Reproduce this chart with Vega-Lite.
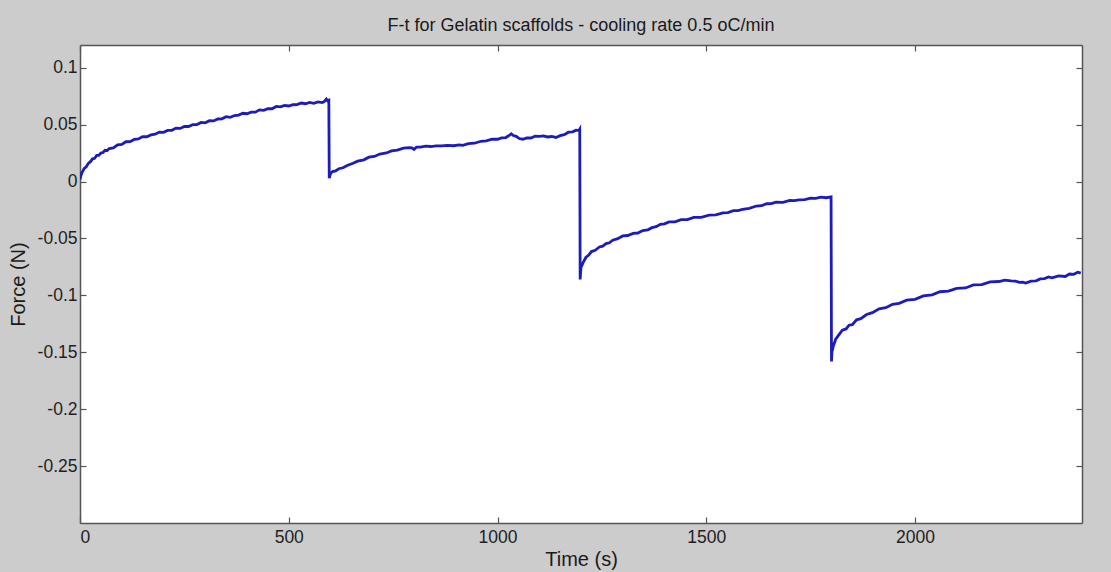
{
  "$schema": "https://vega.github.io/schema/vega-lite/v6.json",
  "width": 1002,
  "height": 478,
  "autosize": {"type": "none"},
  "padding": {"left": 80, "top": 45, "right": 29, "bottom": 49},
  "background": "#cccccc",
  "title": {
    "text": "F-t for Gelatin scaffolds - cooling rate 0.5 oC/min",
    "font": "Liberation Sans",
    "fontSize": 18,
    "fontWeight": "normal",
    "color": "#1a1a1a",
    "anchor": "middle",
    "baseline": "alphabetic",
    "offset": -5
  },
  "config": {
    "locale": {
      "number": {"decimal": ".", "thousands": ",", "grouping": [3], "currency": ["$", ""], "minus": "-"}
    },
    "view": {"fill": "white", "stroke": null},
    "axis": {
      "labelFont": "Liberation Sans",
      "labelFontSize": 17.5,
      "labelColor": "#1f1f1f",
      "titleFont": "Liberation Sans",
      "titleFontSize": 20,
      "titleFontWeight": "normal",
      "titleColor": "#1a1a1a",
      "domainColor": "#555555",
      "domainWidth": 1.5,
      "tickColor": "#555555",
      "tickWidth": 1.2,
      "tickSize": -6,
      "grid": false
    }
  },
  "data": {
    "values": [
      {"t": 0, "f": 0.002}, {"t": 2, "f": 0.005}, {"t": 5, "f": 0.008}, {"t": 10, "f": 0.0115},
      {"t": 15, "f": 0.013}, {"t": 20, "f": 0.016}, {"t": 25, "f": 0.0175}, {"t": 30, "f": 0.020},
      {"t": 35, "f": 0.0205}, {"t": 40, "f": 0.023}, {"t": 45, "f": 0.023}, {"t": 50, "f": 0.025},
      {"t": 55, "f": 0.0255}, {"t": 60, "f": 0.0275}, {"t": 65, "f": 0.0272}, {"t": 70, "f": 0.029},
      {"t": 80, "f": 0.0296}, {"t": 90, "f": 0.0323}, {"t": 100, "f": 0.0326}, {"t": 110, "f": 0.035},
      {"t": 120, "f": 0.0351}, {"t": 130, "f": 0.037}, {"t": 140, "f": 0.0374}, {"t": 150, "f": 0.0395},
      {"t": 160, "f": 0.0394}, {"t": 170, "f": 0.041}, {"t": 180, "f": 0.0416}, {"t": 190, "f": 0.0435},
      {"t": 200, "f": 0.0433}, {"t": 210, "f": 0.045}, {"t": 220, "f": 0.0451}, {"t": 230, "f": 0.047},
      {"t": 240, "f": 0.0467}, {"t": 250, "f": 0.0485}, {"t": 260, "f": 0.0484}, {"t": 270, "f": 0.050},
      {"t": 280, "f": 0.0501}, {"t": 290, "f": 0.052}, {"t": 300, "f": 0.0516}, {"t": 310, "f": 0.0535},
      {"t": 320, "f": 0.0533}, {"t": 330, "f": 0.055}, {"t": 340, "f": 0.0551}, {"t": 350, "f": 0.057},
      {"t": 360, "f": 0.0565}, {"t": 370, "f": 0.058}, {"t": 380, "f": 0.0584}, {"t": 390, "f": 0.060},
      {"t": 400, "f": 0.0596}, {"t": 410, "f": 0.061}, {"t": 420, "f": 0.061}, {"t": 430, "f": 0.063},
      {"t": 440, "f": 0.0626}, {"t": 450, "f": 0.064}, {"t": 460, "f": 0.064}, {"t": 470, "f": 0.066},
      {"t": 480, "f": 0.0656}, {"t": 490, "f": 0.067}, {"t": 500, "f": 0.0664}, {"t": 510, "f": 0.0675},
      {"t": 520, "f": 0.0676}, {"t": 530, "f": 0.069}, {"t": 540, "f": 0.0684}, {"t": 550, "f": 0.0695},
      {"t": 560, "f": 0.0688}, {"t": 570, "f": 0.070}, {"t": 580, "f": 0.0694}, {"t": 585, "f": 0.0703},
      {"t": 590, "f": 0.0725}, {"t": 593, "f": 0.071}, {"t": 596, "f": 0.0715},
      {"t": 597, "f": 0.003}, {"t": 600, "f": 0.007}, {"t": 605, "f": 0.0088}, {"t": 612, "f": 0.0094},
      {"t": 620, "f": 0.0113}, {"t": 630, "f": 0.0121}, {"t": 640, "f": 0.0142}, {"t": 654, "f": 0.0161},
      {"t": 665, "f": 0.0179}, {"t": 680, "f": 0.0191}, {"t": 692, "f": 0.0214}, {"t": 705, "f": 0.0221},
      {"t": 718, "f": 0.0242}, {"t": 734, "f": 0.0251}, {"t": 746, "f": 0.0269}, {"t": 760, "f": 0.0276},
      {"t": 775, "f": 0.0294}, {"t": 789, "f": 0.0298}, {"t": 795, "f": 0.0296}, {"t": 800, "f": 0.0283},
      {"t": 806, "f": 0.0302}, {"t": 815, "f": 0.0303}, {"t": 828, "f": 0.0312}, {"t": 840, "f": 0.0308},
      {"t": 853, "f": 0.0314}, {"t": 866, "f": 0.0314}, {"t": 880, "f": 0.0318}, {"t": 895, "f": 0.0315},
      {"t": 908, "f": 0.0323}, {"t": 917, "f": 0.0318}, {"t": 930, "f": 0.0334}, {"t": 945, "f": 0.0337},
      {"t": 960, "f": 0.0354}, {"t": 973, "f": 0.0357}, {"t": 987, "f": 0.0372}, {"t": 1000, "f": 0.0372},
      {"t": 1010, "f": 0.0384}, {"t": 1020, "f": 0.0387}, {"t": 1028, "f": 0.0405}, {"t": 1033, "f": 0.042},
      {"t": 1038, "f": 0.0405}, {"t": 1045, "f": 0.0398}, {"t": 1052, "f": 0.0378}, {"t": 1061, "f": 0.0372},
      {"t": 1070, "f": 0.0384}, {"t": 1080, "f": 0.0383}, {"t": 1090, "f": 0.0399}, {"t": 1100, "f": 0.0397},
      {"t": 1110, "f": 0.0402}, {"t": 1120, "f": 0.0392}, {"t": 1130, "f": 0.0396}, {"t": 1140, "f": 0.0388},
      {"t": 1150, "f": 0.0404}, {"t": 1160, "f": 0.0412}, {"t": 1170, "f": 0.0434}, {"t": 1180, "f": 0.0437},
      {"t": 1188, "f": 0.0452}, {"t": 1195, "f": 0.0448}, {"t": 1197, "f": 0.046},
      {"t": 1198, "f": -0.086}, {"t": 1199, "f": -0.080}, {"t": 1200, "f": -0.0755}, {"t": 1205, "f": -0.0712},
      {"t": 1212, "f": -0.0665}, {"t": 1218, "f": -0.0648}, {"t": 1225, "f": -0.0615}, {"t": 1234, "f": -0.0604},
      {"t": 1244, "f": -0.0575}, {"t": 1252, "f": -0.0568}, {"t": 1260, "f": -0.0545}, {"t": 1268, "f": -0.0538},
      {"t": 1276, "f": -0.0515}, {"t": 1288, "f": -0.0502}, {"t": 1300, "f": -0.0478}, {"t": 1312, "f": -0.0474},
      {"t": 1325, "f": -0.0455}, {"t": 1336, "f": -0.0452}, {"t": 1348, "f": -0.043}, {"t": 1360, "f": -0.0424},
      {"t": 1370, "f": -0.0405}, {"t": 1380, "f": -0.0396}, {"t": 1390, "f": -0.0375}, {"t": 1400, "f": -0.0372},
      {"t": 1411, "f": -0.0355}, {"t": 1425, "f": -0.0354}, {"t": 1440, "f": -0.0335}, {"t": 1455, "f": -0.0334},
      {"t": 1470, "f": -0.0315}, {"t": 1488, "f": -0.0314}, {"t": 1507, "f": -0.0295}, {"t": 1523, "f": -0.0293},
      {"t": 1540, "f": -0.0275}, {"t": 1552, "f": -0.0272}, {"t": 1565, "f": -0.0255}, {"t": 1576, "f": -0.0256},
      {"t": 1587, "f": -0.0245}, {"t": 1603, "f": -0.0236}, {"t": 1620, "f": -0.0215}, {"t": 1632, "f": -0.0212},
      {"t": 1645, "f": -0.0195}, {"t": 1656, "f": -0.0194}, {"t": 1667, "f": -0.018}, {"t": 1684, "f": -0.0182},
      {"t": 1700, "f": -0.0165}, {"t": 1711, "f": -0.0168}, {"t": 1722, "f": -0.016}, {"t": 1736, "f": -0.0158},
      {"t": 1750, "f": -0.0145}, {"t": 1762, "f": -0.0148}, {"t": 1775, "f": -0.0136}, {"t": 1787, "f": -0.0142},
      {"t": 1799, "f": -0.0135},
      {"t": 1800, "f": -0.158}, {"t": 1801, "f": -0.150}, {"t": 1804, "f": -0.145}, {"t": 1810, "f": -0.1385},
      {"t": 1818, "f": -0.1345}, {"t": 1826, "f": -0.1305}, {"t": 1835, "f": -0.1295}, {"t": 1842, "f": -0.1262},
      {"t": 1850, "f": -0.1258}, {"t": 1860, "f": -0.1215}, {"t": 1870, "f": -0.1205}, {"t": 1884, "f": -0.1168},
      {"t": 1898, "f": -0.1152}, {"t": 1914, "f": -0.1118}, {"t": 1930, "f": -0.1108}, {"t": 1946, "f": -0.1078},
      {"t": 1962, "f": -0.107}, {"t": 1980, "f": -0.1042}, {"t": 2000, "f": -0.1035}, {"t": 2020, "f": -0.1005},
      {"t": 2041, "f": -0.0995}, {"t": 2060, "f": -0.0968}, {"t": 2080, "f": -0.0963}, {"t": 2100, "f": -0.0938},
      {"t": 2121, "f": -0.0935}, {"t": 2140, "f": -0.0908}, {"t": 2160, "f": -0.0905}, {"t": 2180, "f": -0.0882},
      {"t": 2201, "f": -0.0878}, {"t": 2215, "f": -0.0866}, {"t": 2230, "f": -0.0872}, {"t": 2240, "f": -0.0874},
      {"t": 2250, "f": -0.0885}, {"t": 2258, "f": -0.0884}, {"t": 2265, "f": -0.0892}, {"t": 2278, "f": -0.0875},
      {"t": 2290, "f": -0.0872}, {"t": 2300, "f": -0.0855}, {"t": 2310, "f": -0.0852}, {"t": 2320, "f": -0.0838},
      {"t": 2328, "f": -0.0845}, {"t": 2344, "f": -0.0828}, {"t": 2360, "f": -0.0834}, {"t": 2370, "f": -0.0812},
      {"t": 2380, "f": -0.0815}, {"t": 2390, "f": -0.0796}, {"t": 2397, "f": -0.0805}
    ]
  },
  "layer": [
    {
      "mark": {"type": "line", "color": "#1c1cbe", "strokeWidth": 2.8, "clip": true},
      "encoding": {
        "x": {
          "field": "t", "type": "quantitative",
          "scale": {"domain": [0, 2400], "nice": false, "zero": false},
          "axis": {"orient": "bottom", "title": "Time (s)", "values": [0, 500, 1000, 1500, 2000], "format": "d", "labelPadding": 11, "titlePadding": 4}
        },
        "y": {
          "field": "f", "type": "quantitative",
          "scale": {"domain": [-0.3, 0.12], "nice": false, "zero": false},
          "axis": {"orient": "left", "title": "Force (N)", "values": [-0.25, -0.2, -0.15, -0.1, -0.05, 0, 0.05, 0.1], "format": ".2~f", "labelPadding": 9, "titlePadding": 9}
        }
      }
    },
    {
      "mark": {"type": "point", "opacity": 0},
      "encoding": {
        "x": {
          "field": "t", "type": "quantitative",
          "axis": {"orient": "top", "title": null, "labels": false, "values": [0, 500, 1000, 1500, 2000]}
        },
        "y": {
          "field": "f", "type": "quantitative",
          "axis": {"orient": "right", "title": null, "labels": false, "values": [-0.25, -0.2, -0.15, -0.1, -0.05, 0, 0.05, 0.1]}
        }
      }
    }
  ],
  "resolve": {"axis": {"x": "independent", "y": "independent"}}
}
